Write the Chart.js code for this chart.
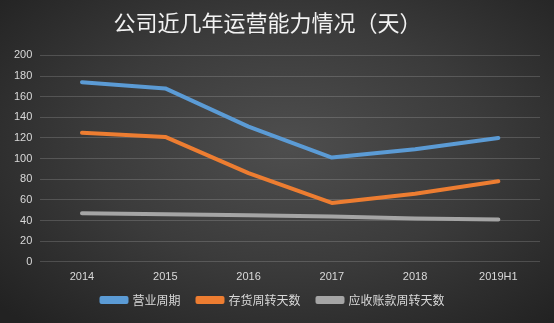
<!DOCTYPE html>
<html lang="zh">
<head>
    <meta charset="UTF-8">
    <title>公司近几年运营能力情况（天）</title>
    <script src="https://cdn.jsdelivr.net/npm/chart.js"></script>
    <style>
        html, body { margin: 0; padding: 0; }
        body { width: 554px; height: 323px; overflow: hidden; }
        .wrap {
            width: 554px; height: 323px; position: relative;
            background: radial-gradient(ellipse 70% 75% at 52% 45%, #4e4e4e 0%, #3b3b3b 50%, #222222 100%);
        }
    </style>
</head>
<body>
    <div class="wrap">
        <canvas id="opsChart"></canvas>
    </div>

    <script>
        const years = ["2014", "2015", "2016", "2017", "2018", "2019H1"];
        const operatingCycle = [174, 168, 131, 101, 109, 120];   // 营业周期
        const inventoryDays = [125, 121, 86, 57, 66, 78];       // 存货周转天数
        const receivableDays = [47, 46, 45, 44, 42, 41];        // 应收账款周转天数
        const yTicks = [0, 20, 40, 60, 80, 100, 120, 140, 160, 180, 200];

        const textColor = "#d9d9d9";
        const cjkFont = "'Noto Sans CJK SC', 'Noto Sans', sans-serif";

        function lineSet(label, data, color) {
            return {
                label: label,
                data: data,
                borderColor: color,
                backgroundColor: color,
                borderWidth: 4,
                borderCapStyle: "round",
                borderJoinStyle: "round",
                pointRadius: 0,
                pointHoverRadius: 0,
                tension: 0,
                fill: false
            };
        }

        const ctx = document.getElementById("opsChart").getContext("2d");
        new Chart(ctx, {
            type: "line",
            data: {
                labels: years,
                datasets: [
                    lineSet("营业周期", operatingCycle, "#5b9bd5"),
                    lineSet("存货周转天数", inventoryDays, "#ed7d31"),
                    lineSet("应收账款周转天数", receivableDays, "#a5a5a5")
                ]
            },
            options: {
                responsive: true,
                maintainAspectRatio: false,
                animation: false,
                layout: { padding: { left: 6, right: 14, top: 6, bottom: 6 } },
                plugins: {
                    title: {
                        display: true,
                        // trailing ideographic space nudges the centred title left, like the source
                        text: "公司近几年运营能力情况（天）\u3000",
                        color: "#f2f2f2",
                        font: { family: cjkFont, size: 22, weight: "normal" },
                        padding: { top: 3, bottom: 20 }
                    },
                    legend: {
                        position: "bottom",
                        labels: {
                            color: textColor,
                            font: { family: cjkFont, size: 12 },
                            boxWidth: 25,
                            boxHeight: 4,
                            padding: 17
                        }
                    },
                    tooltip: { enabled: false }
                },
                scales: {
                    x: {
                        offset: true,
                        grid: { display: false },
                        border: { display: false },
                        ticks: { color: textColor, font: { family: "'Liberation Sans', sans-serif", size: 11 }, padding: 1 }
                    },
                    y: {
                        min: 0,
                        max: 200,
                        afterBuildTicks: axis => { axis.ticks = yTicks.map(v => ({ value: v })); },
                        grid: { color: "rgba(255,255,255,0.16)", drawTicks: false },
                        border: { display: false },
                        ticks: { color: textColor, font: { family: "'Liberation Sans', sans-serif", size: 11 }, padding: 8 }
                    }
                }
            },
            plugins: [{
                // legend sits tight under the axis labels in the source picture:
                // give it less room, then draw it a little higher
                id: "legendFit",
                beforeInit(chart) {
                    const legend = chart.legend;
                    const origFit = legend.fit;
                    legend.fit = function () {
                        origFit.call(this);
                        this.height -= 7;
                    };
                },
                afterLayout(chart) {
                    chart.legend.top -= 8;
                    chart.legend.bottom -= 8;
                }
            }]
        });
    </script>
</body>
</html>
